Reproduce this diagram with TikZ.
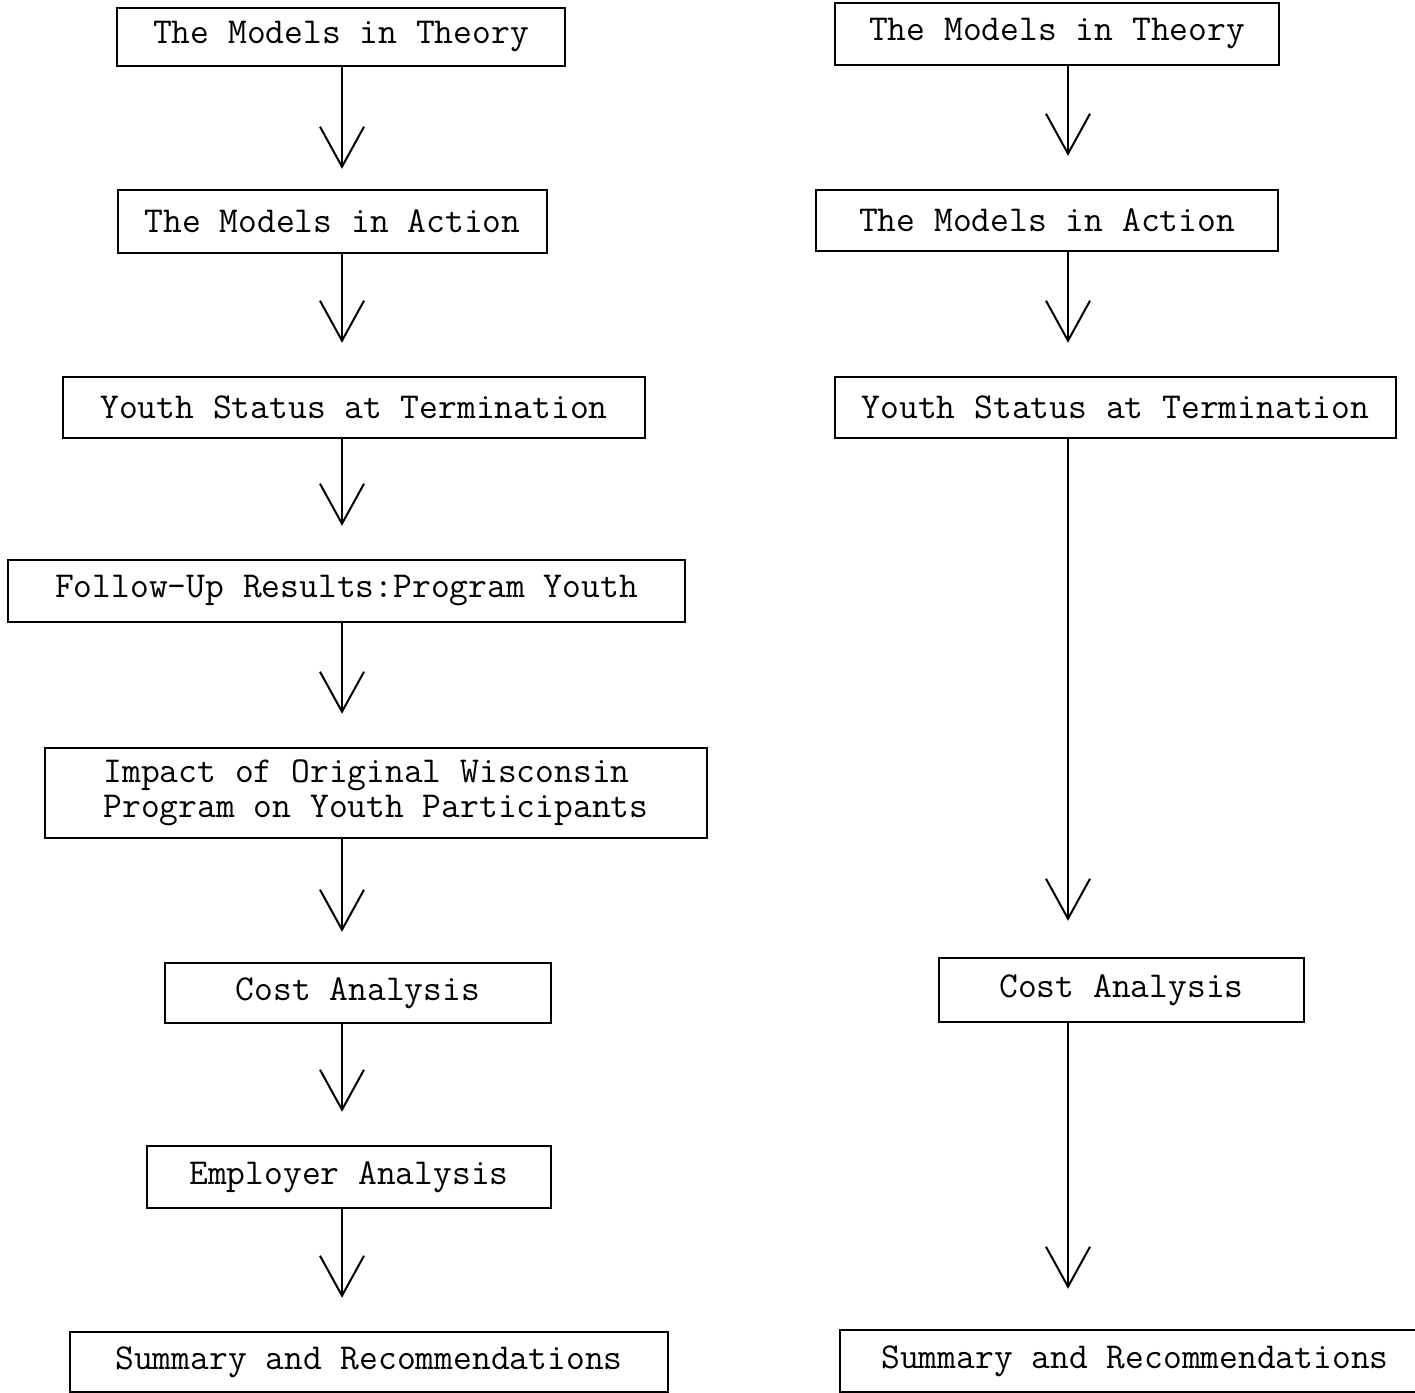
\documentclass[tikz,border=0pt]{standalone}
\usepackage{fontspec}
\usetikzlibrary{arrows.meta}

\tikzset{
  stage/.style={draw, line width=2.4bp, inner sep=0pt,
    font=\fontsize{36.5bp}{35bp}\selectfont\ttfamily},
  flow/.style={line width=2bp, shorten >=33bp,
    -{Straight Barb[length=40bp,width=44bp]}}
}

\begin{document}
\begin{tikzpicture}[x=1bp,y=-1bp]
  \useasboundingbox (0,0) rectangle (1415,1393);

  \coordinate (cl) at (342,0);
  \coordinate (cr) at (1068,0);

  % left column
  \node[stage, minimum width=448bp, minimum height=58bp] (l1) at (341,37) {The Models in Theory};
  \node[stage, minimum width=429bp, minimum height=63bp] (l2) at (332.5,221.5) {The Models in Action};
  \node[stage, minimum width=582bp, minimum height=61bp] (l3) at (354,407.5) {Youth Status at Termination};
  \node[stage, minimum width=677bp, minimum height=62bp] (l4) at (346.5,591) {Follow-Up Results:Program Youth};
  \node[stage, minimum width=662bp, minimum height=90bp, align=left] (l5) at (376,793)
    {Impact of Original Wisconsin\\Program on Youth Participants};
  \node[stage, minimum width=386bp, minimum height=60bp] (l6) at (358,993) {Cost Analysis};
  \node[stage, minimum width=404bp, minimum height=62bp] (l7) at (349,1177) {Employer Analysis};
  \node[stage, minimum width=598bp, minimum height=60bp] (l8) at (369,1362) {Summary and Recommendations};

  \draw[flow, shorten >=20bp] (l1.south -| cl) -- (l2.north -| cl);
  \draw[flow] (l2.south -| cl) -- (l3.north -| cl);
  \draw[flow] (l3.south -| cl) -- (l4.north -| cl);
  \draw[flow] (l4.south -| cl) -- (l5.north -| cl);
  \draw[flow, shorten >=30bp] (l5.south -| cl) -- (l6.north -| cl);
  \draw[flow] (l6.south -| cl) -- (l7.north -| cl);
  \draw[flow] (l7.south -| cl) -- (l8.north -| cl);

  % right column
  \node[stage, minimum width=444bp, minimum height=62bp] (r1) at (1057,34) {The Models in Theory};
  \node[stage, minimum width=462bp, minimum height=61bp] (r2) at (1047,220.5) {The Models in Action};
  \node[stage, minimum width=561bp, minimum height=61bp] (r3) at (1115.5,407.5) {Youth Status at Termination};
  \node[stage, minimum width=365bp, minimum height=64bp] (r4) at (1121.5,990) {Cost Analysis};
  \node[stage, minimum width=590bp, minimum height=62bp] (r5) at (1135,1361) {Summary and Recommendations};

  \draw[flow] (r1.south -| cr) -- (r2.north -| cr);
  \draw[flow] (r2.south -| cr) -- (r3.north -| cr);
  \draw[flow, shorten >=36bp] (r3.south -| cr) -- (r4.north -| cr);
  \draw[flow, shorten >=40bp] (r4.south -| cr) -- (r5.north -| cr);

\end{tikzpicture}
\end{document}
